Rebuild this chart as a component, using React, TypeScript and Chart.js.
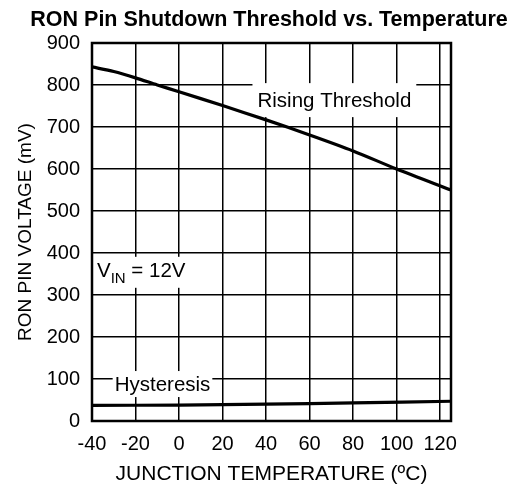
import React, { useEffect, useRef } from "react";
import { Chart, registerables } from "chart.js";

Chart.register(...registerables);

const titleText = "RON Pin Shutdown Threshold vs. Temperature";
const xAxisTitle = "JUNCTION TEMPERATURE (ºC)";
const yAxisTitle = "RON PIN VOLTAGE (mV)";

const xTicks = [-40, -20, 0, 20, 40, 60, 80, 100, 120];
const yTicks = [0, 100, 200, 300, 400, 500, 600, 700, 800, 900];

const risingTemps = [-40, -30, -20, -10, 0, 20, 40, 60, 80, 100, 125];
const risingValues = [843, 832, 817, 800, 784, 751, 717, 681, 643, 600, 550];

const hystTemps = [-40, 0, 40, 80, 125];
const hystValues = [37, 38, 40, 43, 47];

const FONT = "'Liberation Sans', Arial, Helvetica, sans-serif";

function boxedText(
  ctx: CanvasRenderingContext2D,
  text: string,
  cx: number,
  cy: number,
  padX: number,
  padY: number
) {
  ctx.font = `20.5px ${FONT}`;
  const w = ctx.measureText(text).width;
  ctx.fillStyle = "#fff";
  ctx.fillRect(cx - w / 2 - padX, cy - padY, w + 2 * padX, 2 * padY);
  ctx.fillStyle = "#000";
  ctx.textAlign = "center";
  ctx.textBaseline = "middle";
  ctx.fillText(text, cx, cy + 1);
}

const overlayPlugin = {
  id: "overlay",
  beforeDatasetsDraw(chart: any) {
    const ctx: CanvasRenderingContext2D = chart.ctx;
    const xs = chart.scales.x;
    const ys = chart.scales.y;
    ctx.save();
    // Rising Threshold label
    boxedText(ctx, "Rising Threshold", xs.getPixelForValue(71.4), ys.getPixelForValue(764), 5, 17);
    // Hysteresis label
    boxedText(ctx, "Hysteresis", xs.getPixelForValue(-7.6), ys.getPixelForValue(88), 2, 13);

    // VIN label
    const vx = xs.getPixelForValue(-37.7);
    const vy = ys.getPixelForValue(360);
    const mainFont = `20.5px ${FONT}`;
    const subFont = `15px ${FONT}`;
    ctx.font = mainFont;
    const wV = ctx.measureText("V").width;
    ctx.font = subFont;
    const wIN = ctx.measureText("IN").width;
    ctx.font = mainFont;
    const wRest = ctx.measureText(" = 12V").width;
    const totalW = wV + wIN + wRest;
    ctx.fillStyle = "#fff";
    ctx.fillRect(vx - 4, vy - 13, totalW + 8, 31);
    ctx.fillStyle = "#000";
    ctx.textAlign = "left";
    ctx.textBaseline = "alphabetic";
    const base = vy + 7.5;
    ctx.fillText("V", vx, base);
    ctx.font = subFont;
    ctx.fillText("IN", vx + wV, base + 6);
    ctx.font = mainFont;
    ctx.fillText(" = 12V", vx + wV + wIN, base);
    ctx.restore();
  },
  afterDraw(chart: any) {
    const ctx: CanvasRenderingContext2D = chart.ctx;
    const { left, top, right, bottom } = chart.chartArea;
    ctx.save();
    // frame
    ctx.strokeStyle = "#000";
    ctx.lineWidth = 2.5;
    ctx.strokeRect(left, top, right - left, bottom - top);

    // title
    ctx.font = `bold 21.5px ${FONT}`;
    ctx.fillStyle = "#000";
    ctx.textAlign = "center";
    ctx.textBaseline = "middle";
    ctx.fillText(titleText, 269, 20);
    ctx.restore();
  },
};

export default function App() {
  const canvasRef = useRef<HTMLCanvasElement | null>(null);

  useEffect(() => {
    document.body.style.margin = "0";
    const canvas = canvasRef.current;
    if (!canvas) return;
    const tickFont = { family: FONT, size: 20 };
    const chart = new Chart(canvas, {
      type: "line",
      data: {
        datasets: [
          {
            label: "Rising Threshold",
            data: risingTemps.map((t, i) => ({ x: t, y: risingValues[i] })),
            borderColor: "#000",
            borderWidth: 3.2,
            pointRadius: 0,
            tension: 0.3,
            fill: false,
          },
          {
            label: "Hysteresis",
            data: hystTemps.map((t, i) => ({ x: t, y: hystValues[i] })),
            borderColor: "#000",
            borderWidth: 3.2,
            pointRadius: 0,
            tension: 0.3,
            fill: false,
          },
        ],
      },
      options: {
        animation: false,
        responsive: false,
        devicePixelRatio: 1,
        layout: { padding: { left: 0, right: 68, top: 43, bottom: 0 } },
        plugins: {
          legend: { display: false },
          title: { display: false },
          tooltip: { enabled: false },
        },
        scales: {
          x: {
            type: "linear",
            min: -40,
            max: 125,
            afterBuildTicks: (scale: any) => {
              scale.ticks = xTicks.map((v) => ({ value: v }));
            },
            afterFit: (scale: any) => {
              scale.height = 68;
            },
            grid: { color: "#000", lineWidth: 1.5, drawTicks: false },
            border: { display: false },
            ticks: {
              color: "#000",
              font: tickFont,
              padding: 11,
              maxRotation: 0,
              autoSkip: false,
            },
            title: {
              display: true,
              text: xAxisTitle,
              color: "#000",
              font: { family: FONT, size: 21 },
              padding: { top: 0, bottom: 2 },
            },
          },
          y: {
            type: "linear",
            min: 0,
            max: 900,
            afterBuildTicks: (scale: any) => {
              scale.ticks = yTicks.map((v) => ({ value: v }));
            },
            afterFit: (scale: any) => {
              scale.width = 92;
            },
            grid: { color: "#000", lineWidth: 1.5, drawTicks: false },
            border: { display: false },
            ticks: {
              color: "#000",
              font: tickFont,
              padding: 12,
              autoSkip: false,
            },
            title: {
              display: true,
              text: yAxisTitle,
              color: "#000",
              font: { family: FONT, size: 19 },
              padding: { top: 14, bottom: 0 },
            },
          },
        },
      },
      plugins: [overlayPlugin],
    } as any);
    return () => chart.destroy();
  }, []);

  return (
    <div style={{ width: 519, height: 489, background: "#fff" }}>
      <canvas ref={canvasRef} width={519} height={489} />
    </div>
  );
}
